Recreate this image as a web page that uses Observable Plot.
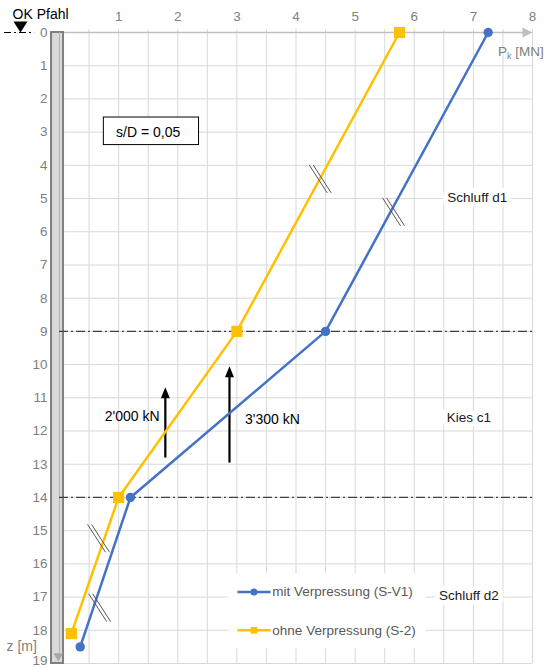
<!DOCTYPE html>
<html>
<head>
<meta charset="utf-8">
<script src="https://cdn.jsdelivr.net/npm/d3@7"></script>
<script src="https://cdn.jsdelivr.net/npm/@observablehq/plot@0.6"></script>
<style>
  html, body { margin: 0; padding: 0; background: #fff; overflow: hidden; }
</style>
</head>
<body>
<div id="chart"></div>
<script>
// Axis ticks: pile load P_k [MN] (top) and depth z [m] (left)
const loadTicks = [1, 2, 3, 4, 5, 6, 7, 8];
const loadGrid = [0.5, 1, 1.5, 2, 2.5, 3, 3.5, 4, 4.5, 5, 5.5, 6, 6.5, 7, 7.5, 8];
const depthTicks = [0, 1, 2, 3, 4, 5, 6, 7, 8, 9, 10, 11, 12, 13, 14, 15, 16, 17, 18, 19];

// Load distribution along the pile
const seriesNames = ["mit Verpressung (S-V1)", "ohne Verpressung (S-2)"];
const seriesColors = ["#4472C4", "#FFC000"];
const loadWith = [7.25, 4.5, 1.2, 0.35];
const depthWith = [0, 9, 14, 18.5];
const loadWithout = [5.75, 3.0, 1.0, 0.2];
const depthWithout = [0, 9, 14, 18.1];

// Soil layers
const layerBounds = [9, 14];
const layerNames = ["Schluff d1", "Kies c1", "Schluff d2"];
const layerNameLoad = [6.56, 6.55, 6.42];
const layerNameDepth = [4.97, 11.6, 16.95];

// Skin friction in the gravel layer
const forceLabels = ["2'000 kN", "3'300 kN"];
const forceLoad = [1.79, 2.875];
const forceFrom = [12.8, 12.95];
const forceTo = [10.68, 10.05];
const forceLabelLoad = [1.23, 3.6];
const forceLabelDepth = [11.57, 11.66];

// Axis-break markers on the curves
const breakLoad = [4.41, 5.65, 0.66, 0.68];
const breakDepth = [4.41, 5.40, 15.23, 17.32];

// Settlement criterion
const ratioLabel = "s/D = 0,05";
const ratioBox = {x1: 0.75, x2: 2.36, z1: 2.56, z2: 3.39, x: 1.5, z: 3.01};

// Pile shaft and head
const pile = {x1: -0.135, x2: 0.068, z1: 0, z2: 19};
const headLabel = "OK Pfahl";

// Legend placement (data units)
const legendDepth = [16.85, 18.0];
const legendBox = {x1: 2.86, x2: 6.2, z1: 16.3, z2: 18.55};

const withPts = loadWith.map((x, i) => ({x, z: depthWith[i]}));
const withoutPts = loadWithout.map((x, i) => ({x, z: depthWithout[i]}));
const layerText = layerNames.map((t, i) => ({t, x: layerNameLoad[i], z: layerNameDepth[i]}));
const forces = forceLabels.map((t, i) => ({t, x: forceLoad[i], from: forceFrom[i], to: forceTo[i], lx: forceLabelLoad[i], lz: forceLabelDepth[i]}));
const breaks = breakLoad.map((x, i) => ({x, z: breakDepth[i]}));
const legend = seriesNames.map((t, i) => ({t, color: seriesColors[i], z: legendDepth[i]}));

// Custom arrowhead shapes (apex at the anchor point)
const headUp = {draw(c) { c.moveTo(0, 0); c.lineTo(4.5, 11); c.lineTo(-4.5, 11); c.closePath(); }};
const headRight = {draw(c) { c.moveTo(0, 0); c.lineTo(-10, -5); c.lineTo(-10, 5); c.closePath(); }};
const headDown = {draw(c) { c.moveTo(0, 0); c.lineTo(7, -11); c.lineTo(-7, -11); c.closePath(); }};
const pileTip = {draw(c) { c.moveTo(0, 0); c.lineTo(5, -8); c.lineTo(-5, -8); c.closePath(); }};

const grid = "#d9d9d9";
const axisGray = "#808080";
const textGray = "#595959";

const chart = Plot.plot({
  width: 544,
  height: 668,
  marginLeft: 59,
  marginRight: 12,
  marginTop: 32,
  marginBottom: 5,
  x: {domain: [0, 8], axis: null},
  y: {domain: [0, 19], reverse: true, axis: null},
  style: {fontFamily: "'Liberation Sans', Arial, sans-serif", fontSize: "13px", background: "#fff", overflow: "visible"},
  marks: [
    // grid
    Plot.ruleX(loadGrid, {y1: -0.09, y2: 19, stroke: grid, strokeWidth: 1}),
    Plot.ruleY(depthTicks.filter(d => d > 0), {x1: 0, x2: 8, stroke: grid, strokeWidth: 1}),

    // legend background
    Plot.rect([legendBox], {x1: "x1", x2: "x2", y1: "z1", y2: "z2", fill: "#fff"}),

    // load axis with arrow
    Plot.ruleY([0], {x1: 0.06, x2: 7.85, stroke: "#bfbfbf", strokeWidth: 1.5}),
    Plot.dot([{x: 8, z: 0}], {x: "x", y: "z", symbol: headRight, fill: "#bfbfbf", stroke: "none"}),

    // tick labels (the last depth label sits at the lower edge)
    Plot.axisX(loadTicks, {anchor: "top", tickSize: 0, tickPadding: 12, label: null, color: axisGray, fontSize: 13.5}),
    Plot.axisY(depthTicks.slice(0, -1), {anchor: "left", tickSize: 0, tickPadding: 12, label: null, color: axisGray, fontSize: 13.5}),
    Plot.axisY(depthTicks.slice(-1), {anchor: "left", tickSize: 0, tickPadding: 12, label: null, color: axisGray, fontSize: 13.5, dy: -3}),

    // pile
    Plot.rect([pile], {x1: "x1", x2: "x2", y1: "z1", y2: "z2", fill: "#d9d9d9", stroke: "#7f7f7f", strokeWidth: 2}),
    Plot.ruleX([0], {y1: 0, y2: 18.7, stroke: "#b3b3b3", strokeWidth: 1}),
    Plot.dot([{x: -0.02, z: 18.93}], {x: "x", y: "z", symbol: pileTip, fill: "#a6a6a6", stroke: "none"}),

    // pile head marker
    Plot.ruleY([0], {x1: -0.93, x2: -0.42, stroke: "#000", strokeWidth: 1, strokeDasharray: "7,3,2,3"}),
    Plot.dot([{x: -0.66, z: 0}], {x: "x", y: "z", symbol: headDown, fill: "#000", stroke: "none"}),
    Plot.text([headLabel], {x: -0.32, y: -0.55, text: d => d, fill: "#000", fontSize: 14}),

    // layer boundaries
    Plot.ruleY(layerBounds, {x1: 0, x2: 8.05, stroke: "#404040", strokeWidth: 1.2, strokeDasharray: "9,3,2,3"}),

    // layer names
    Plot.text(layerText, {x: "x", y: "z", text: "t", textAnchor: "start", fill: "#1a1a1a", stroke: "#fff", strokeWidth: 10, fontSize: 13.5}),

    // settlement criterion box
    Plot.rect([ratioBox], {x1: "x1", x2: "x2", y1: "z1", y2: "z2", fill: "#fff", stroke: "#000", strokeWidth: 1}),
    Plot.text([ratioBox], {x: "x", y: "z", text: () => ratioLabel, fill: "#000", fontSize: 14}),

    // skin friction arrows
    Plot.link(forces, {x1: "x", x2: "x", y1: "from", y2: d => d.to + 0.25, stroke: "#000", strokeWidth: 2.2}),
    Plot.dot(forces, {x: "x", y: "to", symbol: headUp, fill: "#000", stroke: "none"}),
    Plot.text(forces, {x: "lx", y: "lz", text: "t", fill: "#000", fontSize: 14}),

    // curves
    Plot.line(withoutPts, {x: "x", y: "z", stroke: seriesColors[1], strokeWidth: 2.5}),
    Plot.line(withPts, {x: "x", y: "z", stroke: seriesColors[0], strokeWidth: 2.5}),
    Plot.dot(withoutPts, {x: "x", y: "z", symbol: "square", r: 6.3, fill: seriesColors[1], stroke: "none"}),
    Plot.dot(withPts, {x: "x", y: "z", r: 4.7, fill: seriesColors[0], stroke: "none"}),

    // axis-break markers
    Plot.link(breaks, {x1: d => d.x - 0.152, x2: d => d.x + 0.152, y1: d => d.z - 0.42, y2: d => d.z + 0.42, dx: -2, stroke: "#595959", strokeWidth: 1}),
    Plot.link(breaks, {x1: d => d.x - 0.152, x2: d => d.x + 0.152, y1: d => d.z - 0.42, y2: d => d.z + 0.42, dx: 2, stroke: "#595959", strokeWidth: 1}),

    // legend
    Plot.link(legend, {x1: () => 3.01, x2: () => 3.57, y1: "z", y2: "z", stroke: "color", strokeWidth: 2.5}),
    Plot.dot(legend.slice(0, 1), {x: () => 3.29, y: "z", r: 3.5, fill: "color", stroke: "none"}),
    Plot.dot(legend.slice(1), {x: () => 3.29, y: "z", symbol: "square", r: 3.8, fill: "color", stroke: "none"}),
    Plot.text(legend, {x: () => 3.6, y: "z", text: "t", textAnchor: "start", fill: textGray, fontSize: 13.5}),

    // axis titles
    Plot.text(["Pk [MN]"], {x: 8.19, y: 0.57, text: d => d, textAnchor: "end", fill: axisGray, fontSize: 13.5}),
    Plot.text(["z [m]"], {x: -0.64, y: 18.5, text: d => d, fill: axisGray, fontSize: 14})
  ]
});

document.getElementById("chart").appendChild(chart);

// subscript k in the load axis title
d3.select(chart).selectAll("text").filter(function () { return this.textContent === "Pk [MN]"; })
  .each(function () {
    const t = d3.select(this);
    t.text(null);
    t.append("tspan").text("P");
    t.append("tspan").attr("font-size", 9).attr("dy", 3).text("k");
    t.append("tspan").attr("dy", -3).text(" [MN]");
  });
</script>
</body>
</html>
